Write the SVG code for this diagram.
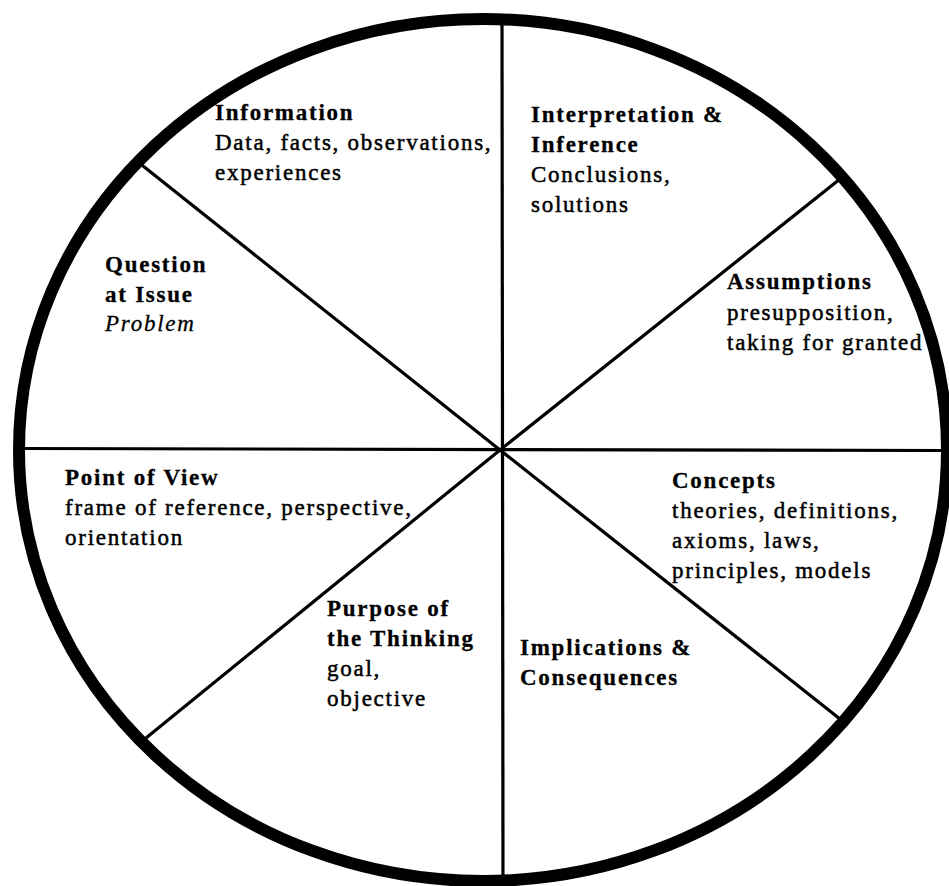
<svg xmlns="http://www.w3.org/2000/svg" width="949" height="886" viewBox="0 0 949 886">
<style>
text { font-family: "Liberation Serif", "Times New Roman", serif; font-size: 23px; letter-spacing: 1.75px; fill: #000; }
.h { font-weight: bold; stroke: #000; stroke-width: 0.3px; }
.d { stroke: #000; stroke-width: 0.5px; }
.i { font-style: italic; stroke: #000; stroke-width: 0.3px; }
.spoke { stroke: #000; stroke-width: 3.2; fill: none; stroke-linecap: butt; }
</style>
<rect width="949" height="886" fill="#fff"/>
<g id="connectors">
<line class="spoke" x1="502" y1="22" x2="503" y2="876"/>
<line class="spoke" x1="22" y1="448.5" x2="944" y2="450.5"/>
<line class="spoke" x1="138" y1="162" x2="500" y2="450"/>
<line class="spoke" x1="840" y1="179" x2="500" y2="450"/>
<line class="spoke" x1="840" y1="719" x2="500" y2="450"/>
<line class="spoke" x1="146" y1="738" x2="500" y2="450"/>
</g>
<ellipse id="rim" cx="483" cy="450" rx="464" ry="431" fill="none" stroke="#000" stroke-width="12"/>
<g id="information">
<text x="215" y="120" class="h">Information</text>
<text x="215" y="150" class="d">Data, facts, observations,</text>
<text x="215" y="180" class="d">experiences</text>
</g>
<g id="interpretation">
<text x="531" y="122" class="h">Interpretation &amp;</text>
<text x="531" y="152" class="h">Inference</text>
<text x="531" y="182" class="d">Conclusions,</text>
<text x="531" y="212" class="d">solutions</text>
</g>
<g id="question">
<text x="105" y="272" class="h">Question</text>
<text x="105" y="302" class="h">at Issue</text>
<text x="105" y="331" class="i">Problem</text>
</g>
<g id="assumptions">
<text x="727" y="289" class="h">Assumptions</text>
<text x="727" y="320" class="d">presupposition,</text>
<text x="727" y="350" class="d">taking for granted</text>
</g>
<g id="point-of-view">
<text x="65" y="485" class="h">Point of View</text>
<text x="65" y="515" class="d">frame of reference, perspective,</text>
<text x="65" y="545" class="d">orientation</text>
</g>
<g id="concepts">
<text x="672" y="488" class="h">Concepts</text>
<text x="672" y="518" class="d">theories, definitions,</text>
<text x="672" y="548" class="d">axioms, laws,</text>
<text x="672" y="578" class="d">principles, models</text>
</g>
<g id="purpose">
<text x="327" y="616" class="h">Purpose of</text>
<text x="327" y="646" class="h">the Thinking</text>
<text x="327" y="676" class="d">goal,</text>
<text x="327" y="706" class="d">objective</text>
</g>
<g id="implications">
<text x="520" y="655" class="h">Implications &amp;</text>
<text x="520" y="685" class="h">Consequences</text>
</g>
</svg>
